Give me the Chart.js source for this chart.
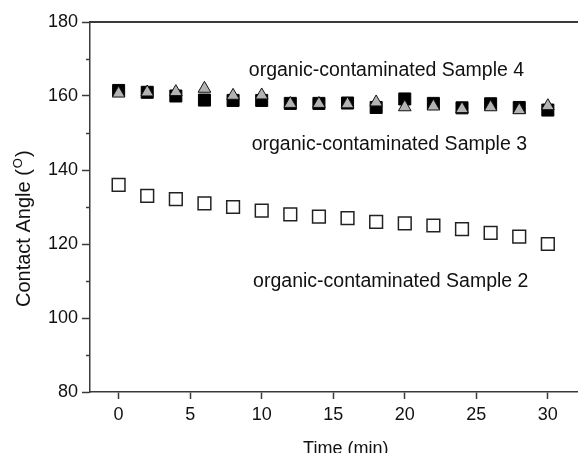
<!DOCTYPE html>
<html>
<head>
<meta charset="utf-8">
<script src="https://cdn.jsdelivr.net/npm/chart.js@4.4.1/dist/chart.umd.min.js"></script>
<style>
  html, body { margin: 0; padding: 0; background: #fff; overflow: hidden; }
  #wrap { width: 578px; height: 453px; overflow: hidden; }
</style>
</head>
<body>
<div id="wrap"><canvas id="angleChart" width="612" height="453"></canvas></div>
<script>
// measured every 2 minutes
const times = [0, 2, 4, 6, 8, 10, 12, 14, 16, 18, 20, 22, 24, 26, 28, 30];

// contact angle (degrees) per sample
const sample2 = [136, 133, 132.1, 131, 130, 129, 128, 127.4, 127, 126, 125.6, 125, 124, 123, 122, 120];
const sample3 = [161.5, 161, 160, 158.9, 158.8, 158.8, 158, 158, 158.1, 156.9, 159.2, 158, 156.8, 157.9, 156.9, 156.2];
const sample4 = [160.7, 161, 161.1, 162, 160.1, 160.2, 157.9, 157.9, 157.8, 158.3, 157, 157.2, 156.5, 157, 156.2, 157.3];

const sampleNames = ['organic-contaminated Sample 2', 'organic-contaminated Sample 3', 'organic-contaminated Sample 4'];

// axis ticks
const xTicks = [0, 5, 10, 15, 20, 25, 30];
const yTicks = [80, 100, 120, 140, 160, 180];
const yMinorTicks = [90, 110, 130, 150, 170];

const FONT = 'Liberation Sans, Arial, Helvetica, sans-serif';

const toPoints = (ys) => times.map((t, i) => ({ x: t, y: ys[i] }));

// frame top line, minor ticks, axis titles and sample labels
const decorPlugin = {
    id: 'decor',
    afterDraw(chart) {
        const { ctx, chartArea, scales } = chart;
        const xs = scales.x, ys = scales.y;
        ctx.save();

        // top frame line
        ctx.strokeStyle = '#3a3a3a';
        ctx.lineWidth = 2;
        ctx.beginPath();
        ctx.moveTo(chartArea.left, chartArea.top);
        ctx.lineTo(chart.width, chartArea.top);
        ctx.stroke();

        // minor y ticks
        ctx.lineWidth = 1.5;
        yMinorTicks.forEach(v => {
            const py = Math.round(ys.getPixelForValue(v)) + 0.5;
            ctx.beginPath();
            ctx.moveTo(chartArea.left - 4, py);
            ctx.lineTo(chartArea.left, py);
            ctx.stroke();
        });

        ctx.fillStyle = '#111';

        // y title with superscript O
        ctx.save();
        ctx.translate(30, 307);
        ctx.rotate(-Math.PI / 2);
        ctx.textBaseline = 'alphabetic';
        ctx.textAlign = 'left';
        ctx.font = '20px ' + FONT;
        const part1 = 'Contact Angle (';
        ctx.fillText(part1, 0, 0);
        let w = ctx.measureText(part1).width;
        ctx.font = '13px ' + FONT;
        ctx.fillText('O', w + 1, -8);
        w += ctx.measureText('O').width + 2;
        ctx.font = '20px ' + FONT;
        ctx.fillText(')', w, 0);
        ctx.restore();

        // x title
        ctx.font = '18px ' + FONT;
        ctx.textAlign = 'center';
        ctx.textBaseline = 'alphabetic';
        ctx.fillText('Time (min)', (chartArea.left + chartArea.right) / 2, 454);

        // sample labels
        ctx.font = '19.5px ' + FONT;
        ctx.textAlign = 'left';
        const labelAt = [[9.4, 108.4], [9.3, 145.4], [9.1, 165.4]];
        sampleNames.forEach((name, i) => {
            ctx.fillText(name, xs.getPixelForValue(labelAt[i][0]), ys.getPixelForValue(labelAt[i][1]));
        });

        ctx.restore();
    }
};

document.addEventListener('DOMContentLoaded', () => {
    const ctx = document.getElementById('angleChart').getContext('2d');

    new Chart(ctx, {
        type: 'scatter',
        data: {
            datasets: [
                {
                    label: sampleNames[2],
                    data: toPoints(sample4),
                    pointStyle: 'triangle',
                    pointRadius: 7.3,
                    pointHoverRadius: 7.3,
                    backgroundColor: '#b3b3b3',
                    borderColor: '#111',
                    borderWidth: 1,
                    order: 0
                },
                {
                    label: sampleNames[1],
                    data: toPoints(sample3),
                    pointStyle: 'rect',
                    pointRadius: 8.5,
                    pointHoverRadius: 8.5,
                    backgroundColor: '#000',
                    borderColor: '#000',
                    borderWidth: 1,
                    order: 1
                },
                {
                    label: sampleNames[0],
                    data: toPoints(sample2),
                    pointStyle: 'rect',
                    pointRadius: 9,
                    pointHoverRadius: 9,
                    backgroundColor: '#fff',
                    borderColor: '#222',
                    borderWidth: 1.5,
                    order: 2
                }
            ]
        },
        options: {
            responsive: false,
            animation: false,
            layout: { padding: { top: 22, right: 0, bottom: 0, left: 0 } },
            plugins: {
                legend: { display: false },
                tooltip: { enabled: false }
            },
            scales: {
                x: {
                    type: 'linear',
                    min: -2,
                    max: 33.75,
                    afterBuildTicks: (s) => { s.ticks = xTicks.map(v => ({ value: v })); },
                    afterFit: (s) => { s.height = 61; },
                    grid: { drawOnChartArea: false, tickLength: 7, tickWidth: 1.5, tickColor: '#3a3a3a' },
                    border: { color: '#3a3a3a', width: 1.5 },
                    ticks: { color: '#111', padding: 5, maxRotation: 0, font: { family: FONT, size: 18 } }
                },
                y: {
                    type: 'linear',
                    min: 80,
                    max: 180,
                    afterBuildTicks: (s) => { s.ticks = yTicks.map(v => ({ value: v })); },
                    afterFit: (s) => { s.width = 90; },
                    grid: { drawOnChartArea: false, tickLength: 8, tickWidth: 1.5, tickColor: '#3a3a3a' },
                    border: { color: '#3a3a3a', width: 1.5 },
                    ticks: { color: '#111', padding: 4, font: { family: FONT, size: 18 } }
                }
            }
        },
        plugins: [decorPlugin]
    });
});
</script>
</body>
</html>
